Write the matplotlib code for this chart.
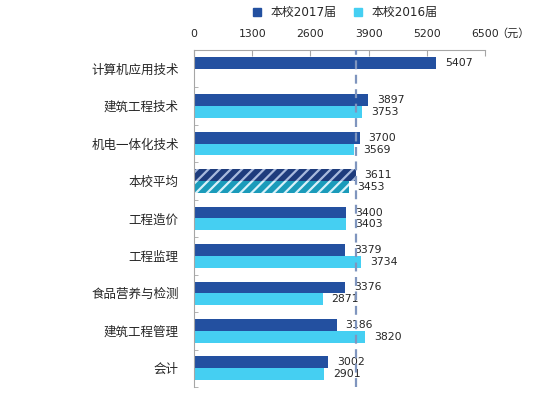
import matplotlib
matplotlib.use('Agg')
import matplotlib.pyplot as plt
from matplotlib.lines import Line2D
import numpy as np

# data
majors = ['计算机应用技术', '建筑工程技术', '机电一体化技术', '本校平均', '工程造价',
          '工程监理', '食品营养与检测', '建筑工程管理', '会计']
salary_2017 = [5407, 3897, 3700, 3611, 3400, 3379, 3376, 3186, 3002]
salary_2016 = [None, 3753, 3569, 3453, 3403, 3734, 2871, 3820, 2901]
avg_index = 3
xticks = [0, 1300, 2600, 3900, 5200, 6500]

c17 = '#2350A0'
c16 = '#45CFF2'
c17_avg = '#1E3C7C'
c16_avg = '#1A9BBA'
grey = '#A6A6A6'
text_c = '#262626'

plt.rcParams['font.family'] = ['DejaVu Sans', 'Noto Sans CJK SC']
plt.rcParams['hatch.linewidth'] = 1.6

fig = plt.figure(figsize=(5.47, 3.96), dpi=100)
ax = fig.add_axes([194 / 547, 1 - 387 / 396, 291 / 547, 337 / 396])

h = 0.315
y = np.arange(len(majors))
for i in range(len(majors)):
    y17 = i - h / 2
    y16 = i + h / 2
    if i == avg_index:
        ax.barh(y17, salary_2017[i], height=h, color=c17_avg, edgecolor='#A9BBDD',
                hatch='///', linewidth=0)
        ax.barh(y16, salary_2016[i], height=h, color=c16_avg, edgecolor='#D8F2FA',
                hatch='///', linewidth=0)
    else:
        ax.barh(y17, salary_2017[i], height=h, color=c17, linewidth=0)
        if salary_2016[i] is not None:
            ax.barh(y16, salary_2016[i], height=h, color=c16, linewidth=0)
    ax.annotate(str(salary_2017[i]), (salary_2017[i], y17), xytext=(6.5, 0),
                textcoords='offset points', ha='left', va='center', fontsize=7.8, color=text_c)
    if salary_2016[i] is not None:
        ax.annotate(str(salary_2016[i]), (salary_2016[i], y16), xytext=(6.5, 0),
                    textcoords='offset points', ha='left', va='center', fontsize=7.8, color=text_c)

# dashed line at the 2017 average
ax.axvline(salary_2017[avg_index], color='#7F95BE', lw=1.6, ls=(0, (4, 2.5)), zorder=3)

ax.set_xlim(0, 6500)
ax.set_ylim(len(majors) - 0.5, -0.5)
ax.xaxis.tick_top()
ax.set_xticks(xticks)
ax.set_xticklabels([str(v) for v in xticks], fontsize=7.8, color=text_c)
ax.tick_params(axis='x', direction='in', length=4, color=grey, pad=8)
ax.text(1.04, 1.05, '（元）', transform=ax.transAxes, fontsize=8, color=text_c,
        ha='left', va='center', family=['Noto Sans CJK SC'])

ax.set_yticks(y)
ax.set_yticklabels(majors, fontsize=9, color=text_c, family=['Noto Sans CJK SC'])
ax.tick_params(axis='y', which='major', length=0, pad=11)
ax.set_yticks(np.arange(len(majors) + 1) - 0.5, minor=True)
ax.tick_params(axis='y', which='minor', direction='in', length=3, color=grey)

for s in ['bottom', 'right']:
    ax.spines[s].set_visible(False)
for s in ['top', 'left']:
    ax.spines[s].set_color(grey)

# legend
handles = [Line2D([], [], marker='s', ls='', color=c17, markersize=6),
           Line2D([], [], marker='s', ls='', color=c16, markersize=6)]
fig.legend(handles, ['本校2017届', '本校2016届'], loc='center', bbox_to_anchor=(0.624, 0.968),
           ncol=2, frameon=False, fontsize=8.6, handletextpad=0.1, columnspacing=0.8,
           labelcolor=text_c)

fig.savefig('out.png', dpi=100)
